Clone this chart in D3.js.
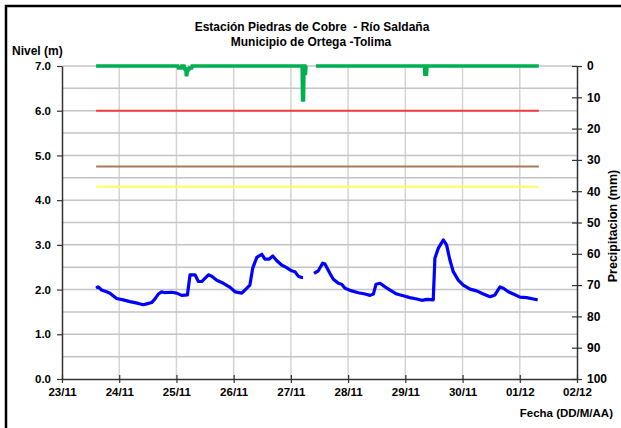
<!DOCTYPE html>
<html>
<head>
<meta charset="utf-8">
<script src="https://cdn.jsdelivr.net/npm/d3@7"></script>
<style>
  body { margin: 0; background: #fff; }
  text { font-family: "Liberation Sans", Arial, sans-serif; font-weight: bold; fill: #000; }
</style>
</head>
<body>
<svg id="chart" width="621" height="428"></svg>
<script>
// fecha de inicio del eje (23/11) y horas transcurridas desde ella
const inicio = new Date(2011, 10, 23, 0, 0);
const diasEje = ["23/11", "24/11", "25/11", "26/11", "27/11", "28/11", "29/11", "30/11", "01/12", "02/12"];

// nivel del rio (m); null = sin dato
const nivelHoras = [14.3, 15.2, 16.6, 18.7, 20.1, 22.9, 25.7, 28.5, 32.0, 34.1, 35.5, 37.6, 39.0, 40.4, 41.8,
  43.2, 46.0, 48.1, 50.2, 52.6, 53.7, 55.8, 57.2, 58.6, 61.4, 62.8, 64.9, 67.7, 70.5, 72.6, 75.4, 76.7,
  78.8, 80.0, 81.7, 83.8, 85.1, 86.8, 88.4, 90.0, 92.1, 94.2, 96.3, 97.7, 99.1, 100.5, 101.1, 103.0,
  105.7, 107.5, 109.3, 110.3, 112.4, 113.8, 115.9, 117.3, 118.7, 121.5, 124.3, 127.1, 129.2, 130.6, 131.7,
  133.4, 135.5, 137.6, 140.4, 143.1, 145.9, 148.8, 150.9, 153.0, 155.7, 156.4, 157.8, 159.9, 161.3, 162.7,
  164.1, 166.2, 168.3, 171.1, 173.9, 176.7, 179.5, 181.6, 183.7, 185.1, 187.2, 189.3, 192.1, 194.9, 197.7, 199.5];
const nivelM = [2.03, 2.06, 1.99, 1.95, 1.92, 1.80, 1.77, 1.73, 1.69, 1.66, 1.68, 1.71, 1.79, 1.90, 1.95,
  1.93, 1.94, 1.92, 1.87, 1.88, 2.33, 2.33, 2.18, 2.18, 2.33, 2.30, 2.21, 2.14, 2.05, 1.95, 1.92, 1.99,
  2.10, 2.48, 2.72, 2.79, 2.68, 2.68, 2.75, 2.65, 2.55, 2.49, 2.42, 2.40, 2.30, 2.27, 2.27, null,
  2.36, 2.42, 2.59, 2.57, 2.36, 2.23, 2.14, 2.12, 2.03, 1.97, 1.93, 1.90, 1.87, 1.90, 2.12,
  2.14, 2.06, 1.99, 1.90, 1.86, 1.82, 1.79, 1.76, 1.78, 1.77, 2.70, 2.92, 3.11, 3.00, 2.66,
  2.40, 2.21, 2.10, 2.01, 1.97, 1.90, 1.84, 1.88, 2.06, 2.03, 1.95, 1.90, 1.83, 1.82, 1.79, 1.77];

// precipitacion (mm); null = sin dato
const lluviaHoras = [14.3, 48.6, 48.8, 50.0, 50.2, 51.2, 51.4, 51.9, 52.1, 52.4, 52.6, 53.2, 53.4, 54.4,
  54.6, 100.7, 100.9, 101.3, 101.5, 101.9, 102.1, 102.3, 102.8, 106.5, 152.0, 152.2, 152.9, 153.1, 200.0];
const lluviaMm = [0, 0, 0.6, 0.6, 0, 0, 0.9, 0.9, 2.8, 2.8, 1.2, 1.2, 0.6, 0.6,
  0, 0, 10.9, 10.9, 0, 0, 2.9, 0, null, 0, 0, 2.6, 2.6, 0, 0];

// umbrales de nivel (m)
const umbralNombres = ["rojo", "naranja", "amarillo"];
const umbralM = [6.0, 4.75, 4.3];
const umbralHoras = [14.3, 200.0];

const nivelTicks = [0, 1, 2, 3, 4, 5, 6, 7];
const lluviaTicks = [0, 10, 20, 30, 40, 50, 60, 70, 80, 90, 100];

const colores = { rojo: "#f23b3b", naranja: "#a67c58", amarillo: "#ffff55" };

const svg = d3.select("#chart");
const margin = { top: 66, right: 44, bottom: 49, left: 62 },
  width = 621 - margin.left - margin.right,
  height = 428 - margin.top - margin.bottom;

const hora = h => new Date(inicio.getTime() + h * 3600e3);

const x = d3.scaleTime()
  .domain([inicio, hora(24 * (diasEje.length - 1))])
  .range([margin.left, margin.left + width]);
const y = d3.scaleLinear().domain([0, 7]).range([margin.top + height, margin.top]);
const yR = d3.scaleLinear().domain([0, 100]).range([margin.top, margin.top + height]);

// marco (se sale por la derecha y por abajo)
svg.append("rect")
  .attr("x", 6).attr("y", 6).attr("width", 640).attr("height", 440)
  .attr("fill", "none").attr("stroke", "#000").attr("stroke-width", 2.5);

// rejilla
const grid = svg.append("g");
grid.selectAll("line.v")
  .data(diasEje.slice(1, -1).map((d, i) => hora(24 * (i + 1))))
  .enter().append("line")
  .attr("x1", d => x(d)).attr("x2", d => x(d))
  .attr("y1", margin.top).attr("y2", margin.top + height)
  .attr("stroke", "#d4d4d4").attr("stroke-width", 1.5);
grid.selectAll("line.h")
  .data(d3.range(1, 15).map(i => i * 0.5))
  .enter().append("line")
  .attr("x1", margin.left).attr("x2", margin.left + width)
  .attr("y1", d => y(d)).attr("y2", d => y(d))
  .attr("stroke", "#c4c4c4").attr("stroke-width", 1.5);

// umbrales
umbralM.forEach((v, i) => {
  svg.append("path")
    .datum(umbralHoras)
    .attr("fill", "none")
    .attr("stroke", colores[umbralNombres[i]])
    .attr("stroke-width", 2)
    .attr("d", d3.line().x(h => x(hora(h))).y(() => y(v)));
});

// precipitacion
const lluvia = lluviaHoras.map((h, i) => ({ h, v: lluviaMm[i] }));
svg.append("path")
  .datum(lluvia)
  .attr("fill", "none")
  .attr("stroke", "#00b050")
  .attr("stroke-width", 3.5)
  .attr("d", d3.line().defined(d => d.v !== null).x(d => x(hora(d.h))).y(d => yR(d.v)));

// nivel
const nivel = nivelHoras.map((h, i) => ({ h, v: nivelM[i] }));
svg.append("path")
  .datum(nivel)
  .attr("fill", "none")
  .attr("stroke", "#0000ff")
  .attr("stroke-width", 3.2)
  .attr("stroke-linejoin", "round")
  .attr("d", d3.line().defined(d => d.v !== null).x(d => x(hora(d.h))).y(d => y(d.v)));

// ejes
const axisStyle = g => {
  g.select(".domain").attr("stroke", "#333").attr("stroke-width", 1.5);
  g.selectAll(".tick line").attr("stroke", "#333").attr("stroke-width", 1.2);
  g.selectAll(".tick text").style("font-size", "11.5px").style("font-weight", "bold")
    .style("font-family", "'Liberation Sans', Arial, sans-serif").attr("fill", "#000");
};

svg.append("g")
  .attr("transform", `translate(${margin.left},0)`)
  .call(d3.axisLeft(y).tickValues(nivelTicks).tickFormat(d3.format(".1f")).tickSize(5).tickSizeOuter(0).tickPadding(6))
  .call(axisStyle);

svg.append("g")
  .attr("transform", `translate(${margin.left + width},0)`)
  .call(d3.axisRight(yR).tickValues(lluviaTicks).tickSize(5).tickSizeOuter(0).tickPadding(5))
  .call(axisStyle)
  .call(g => g.selectAll(".tick text").style("font-size", "12px"))
  .call(g => g.selectAll(".tick line").attr("x1", -5));

svg.append("g")
  .attr("transform", `translate(0,${margin.top + height})`)
  .call(d3.axisBottom(x).tickValues(diasEje.map((d, i) => hora(24 * i))).tickFormat((d, i) => diasEje[i])
    .tickSize(4).tickSizeOuter(0).tickPadding(5))
  .call(axisStyle)
  .call(g => g.selectAll(".tick line").attr("y1", -4));

// textos
svg.append("text").attr("x", 312).attr("y", 31).attr("text-anchor", "middle")
  .style("font-size", "12px").style("white-space", "pre").text("Estación Piedras de Cobre  - Río Saldaña");
svg.append("text").attr("x", 311).attr("y", 46).attr("text-anchor", "middle")
  .style("font-size", "12px").text("Municipio de Ortega -Tolima");
svg.append("text").attr("x", 12).attr("y", 55)
  .style("font-size", "12px").text("Nivel (m)");
svg.append("text").attr("x", 613).attr("y", 417).attr("text-anchor", "end")
  .style("font-size", "11.5px").text("Fecha (DD/M/AA)");
svg.append("text").attr("transform", "translate(617,226) rotate(-90)").attr("text-anchor", "middle")
  .style("font-size", "12.5px").text("Precipitacion (mm)");
</script>
</body>
</html>
